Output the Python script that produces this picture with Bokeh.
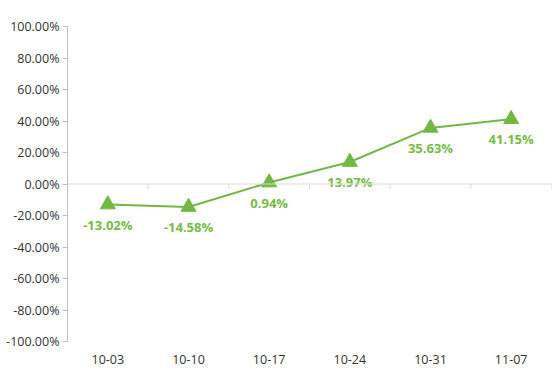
import math
from bokeh.plotting import figure
from bokeh.models import ColumnDataSource, FixedTicker, NumeralTickFormatter, Span, Range1d
from bokeh.core.properties import value
from bokeh.embed import file_html
from bokeh.resources import INLINE

categories = ["10-03", "10-10", "10-17", "10-24", "10-31", "11-07"]
values = [-0.1302, -0.1458, 0.0094, 0.1397, 0.3563, 0.4115]
labels = ["-13.02%", "-14.58%", "0.94%", "13.97%", "35.63%", "41.15%"]
y_ticks = [-1.0, -0.8, -0.6, -0.4, -0.2, 0.0, 0.2, 0.4, 0.6, 0.8, 1.0]

GREEN = "#72b843"
LABEL_GREEN = "#76bd45"
FONT = "Open Sans"
n = len(categories)
xs = [i + 0.5 for i in range(n)]

src = ColumnDataSource(dict(x=xs, y=values, label=labels))

p = figure(width=552, height=371, output_backend="svg", toolbar_location=None,
           x_range=Range1d(0, n), y_range=Range1d(-1, 1),
           min_border_left=67, min_border_right=1, min_border_top=26, min_border_bottom=30)
p.outline_line_color = None
p.xgrid.visible = False
p.ygrid.visible = False
p.background_fill_color = "white"
p.border_fill_color = "white"

# y axis
p.yaxis.ticker = FixedTicker(ticks=y_ticks)
p.yaxis.formatter = NumeralTickFormatter(format="0.00%")
p.yaxis.axis_line_color = "#bfbfbf"
p.yaxis.major_tick_line_color = "#bfbfbf"
p.yaxis.major_tick_out = 5
p.yaxis.major_tick_in = 0
p.yaxis.minor_tick_line_color = None
p.yaxis.major_label_standoff = 3
p.yaxis.major_label_text_font = FONT
p.yaxis.major_label_text_font_size = "12.5px"
p.yaxis.major_label_text_color = "#333333"

# x axis (labels only)
p.xaxis.ticker = FixedTicker(ticks=xs)
p.xaxis.major_label_overrides = {x: c for x, c in zip(xs, categories)}
p.xaxis.axis_line_color = None
p.xaxis.major_tick_line_color = None
p.xaxis.minor_tick_line_color = None
p.xaxis.major_label_standoff = 7
p.xaxis.major_label_text_font = FONT
p.xaxis.major_label_text_font_size = "12.5px"
p.xaxis.major_label_text_color = "#333333"

# zero line with category boundary ticks
p.add_layout(Span(location=0, dimension="width", line_color="#d9d9d9", line_width=1))
bx = list(range(1, n + 1))
p.ray(x=bx, y=[0] * n, length=5, length_units="screen", angle=-math.pi / 2,
      line_color="#d9d9d9", line_width=1)

p.line("x", "y", source=src, line_color=GREEN, line_width=2)
p.scatter("x", "y", source=src, marker="triangle", size=15, fill_color=GREEN, line_color=GREEN)
p.text("x", "y", text="label", source=src, y_offset=20, text_align="center",
       text_baseline="middle", text_color=LABEL_GREEN, text_font=value(FONT),
       text_font_size="13px", text_font_style="bold")

open("out.html", "w").write(file_html(p, INLINE))
